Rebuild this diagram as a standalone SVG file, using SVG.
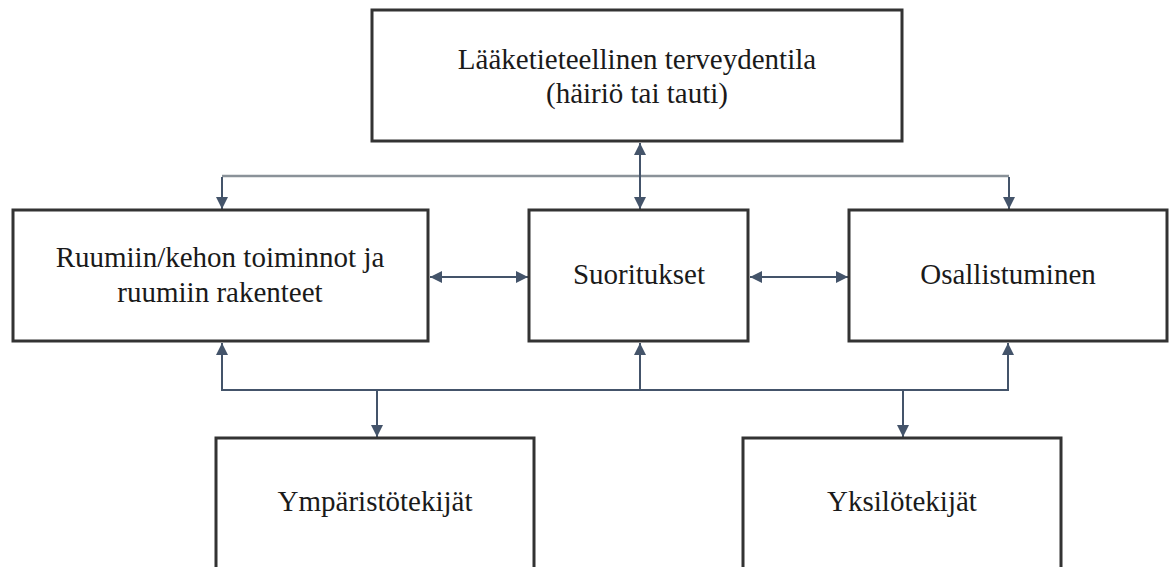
<svg xmlns="http://www.w3.org/2000/svg" width="1170" height="567" viewBox="0 0 1170 567">
<style>
.box{fill:#ffffff;stroke:#333333;stroke-width:3}
.lbl{font-family:"Liberation Serif",Tinos,"Times New Roman","Noto Serif","DejaVu Serif",serif;font-size:29px;fill:#1a1a1a;text-anchor:middle}
.con{fill:none;stroke:#44546a;stroke-width:2}
.conl{fill:none;stroke:#8a9299;stroke-width:2.5}
</style>
<defs>
<marker id="ah" viewBox="0 0 12 12" refX="12" refY="6" markerWidth="12" markerHeight="12" markerUnits="userSpaceOnUse" orient="auto-start-reverse">
<path d="M0,0 L12,6 L0,12 z" fill="#44546a"/>
</marker>
</defs>
<rect width="1170" height="567" fill="#ffffff"/>
<g id="connectors">
<line class="conl" x1="222" y1="176" x2="1009" y2="176"/>
<path class="con" d="M222,177 V209" marker-end="url(#ah)"/>
<path class="con" d="M1009,177 V209" marker-end="url(#ah)"/>
<path class="con" d="M640,143 V209" marker-start="url(#ah)" marker-end="url(#ah)"/>
<path class="con" d="M430,277 H528" marker-start="url(#ah)" marker-end="url(#ah)"/>
<path class="con" d="M750,277 H848" marker-start="url(#ah)" marker-end="url(#ah)"/>
<path class="con" d="M222,343 V390 H1008 V343" marker-start="url(#ah)" marker-end="url(#ah)"/>
<path class="con" d="M640,390 V343" marker-end="url(#ah)"/>
<path class="con" d="M377,390 V437" marker-end="url(#ah)"/>
<path class="con" d="M903,390 V437" marker-end="url(#ah)"/>
</g>
<g id="node-terveydentila">
<rect class="box" x="372" y="10" width="530" height="131"/>
<text class="lbl" x="637" y="69">Lääketieteellinen terveydentila</text>
<text class="lbl" x="637" y="103">(häiriö tai tauti)</text>
</g>
<g id="node-ruumiin">
<rect class="box" x="13" y="210" width="415" height="131"/>
<text class="lbl" x="220" y="267">Ruumiin/kehon toiminnot ja</text>
<text class="lbl" x="220" y="302">ruumiin rakenteet</text>
</g>
<g id="node-suoritukset">
<rect class="box" x="529" y="210" width="219" height="131"/>
<text class="lbl" x="639" y="284">Suoritukset</text>
</g>
<g id="node-osallistuminen">
<rect class="box" x="849" y="210" width="318" height="131"/>
<text class="lbl" x="1008" y="284">Osallistuminen</text>
</g>
<g id="node-ymparisto">
<rect class="box" x="216" y="438" width="318" height="131"/>
<text class="lbl" x="375" y="511">Ympäristötekijät</text>
</g>
<g id="node-yksilo">
<rect class="box" x="743" y="438" width="318" height="131"/>
<text class="lbl" x="902" y="511">Yksilötekijät</text>
</g>
</svg>
